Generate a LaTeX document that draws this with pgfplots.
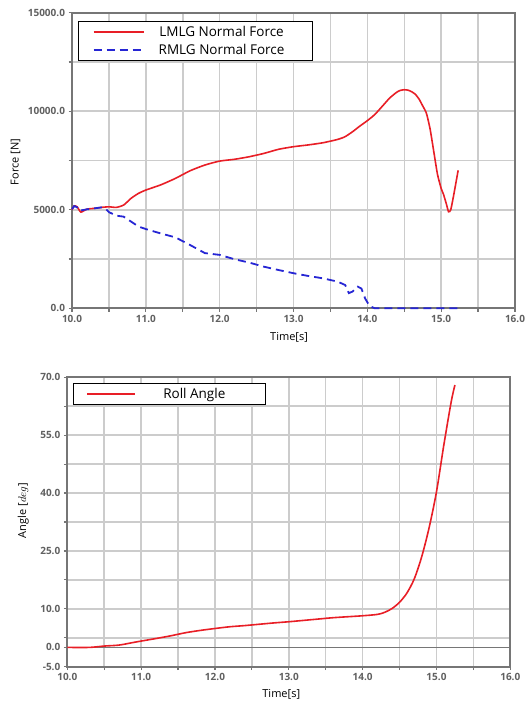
\documentclass[border=0pt]{standalone}
\usepackage{fontspec}
\setmainfont{Open Sans}
\usepackage{pgfplots}
\pgfplotsset{compat=1.18}

\definecolor{lmlgred}{RGB}{232,30,38}
\definecolor{rmlgblue}{RGB}{38,38,212}
\definecolor{gridgray}{RGB}{204,204,204}
\definecolor{framegray}{RGB}{118,118,118}
\definecolor{ticktext}{RGB}{96,96,96}

\pgfplotsset{
  simstyle/.style={
    scale only axis,
    width=443pt,
    xmin=10, xmax=16,
    xtick={10,11,...,16},
    minor xtick={10.5,11.5,...,15.5},
    xticklabels={10.0,11.0,12.0,13.0,14.0,15.0,16.0},
    scaled x ticks=false, scaled y ticks=false,
    xmajorgrids, xminorgrids, ymajorgrids, yminorgrids,
    grid style={draw=gridgray, line width=1.5pt},
    major grid style={draw=gridgray, line width=1.5pt},
    minor grid style={draw=gridgray, line width=1.5pt},
    axis line style={draw=framegray, line width=2pt},
    tick style={draw=framegray, line width=1.2pt},
    tick align=outside,
    major tick length=3.5pt,
    minor tick length=3.5pt,
    xtick pos=bottom, ytick pos=left,
    ticklabel style={font=\fontsize{10}{12}\selectfont\bfseries, text=ticktext},
    label style={font=\fontsize{11}{13}\selectfont, text=black},
    xlabel={Time[s]},
    legend cell align=left,
  },
}

\begin{document}
\begin{tikzpicture}
\useasboundingbox (0,0) rectangle (526pt,703pt);

% Normal forces on the left and right main landing gear
\begin{axis}[
  simstyle,
  at={(72pt,394.7pt)}, anchor=south west,
  height=295.6pt,
  ymin=0, ymax=15000,
  ytick={0,5000,10000,15000},
  minor ytick={2500,7500,12500},
  yticklabels={0.0,5000.0,10000.0,15000.0},
  ylabel={Force [N]},
  ylabel style={at={(axis description cs:-0.1275,0.495)}, anchor=center},
  xlabel style={at={(axis description cs:0.49,-0.098)}, anchor=center},
  clip=false,
  legend style={
    at={(0.0142,0.973)}, anchor=north west,
    draw=black, line width=1pt, fill=white,
    inner xsep=14pt, inner ysep=2.5pt, row sep=2pt,
    font=\fontsize{13.5}{15}\selectfont,
    nodes={inner xsep=4pt, inner ysep=2pt},
  },
]
\addplot[draw=lmlgred, line width=1.6pt, smooth, tension=0.35,
  legend image code/.code={\draw[draw=lmlgred, line width=1.8pt] (0pt,0pt) -- (50pt,0pt);}]
  coordinates {
  (10.00,5000) (10.03,5200) (10.07,5150) (10.12,4880) (10.20,5030)
  (10.30,5070) (10.40,5120) (10.50,5150) (10.60,5120) (10.70,5240)
  (10.80,5580) (10.90,5830) (11.00,6000) (11.20,6260) (11.40,6590)
  (11.60,6980) (11.80,7270) (12.00,7470) (12.20,7560) (12.40,7690)
  (12.60,7860) (12.80,8070) (13.00,8200) (13.20,8290) (13.40,8400)
  (13.60,8570) (13.70,8710) (13.80,8960) (13.90,9250) (14.00,9520)
  (14.10,9830) (14.20,10240) (14.30,10660) (14.40,10970) (14.45,11060)
  (14.50,11090) (14.55,11070) (14.60,10990) (14.65,10860) (14.70,10620)
  (14.75,10270) (14.80,9900) (14.85,9100) (14.90,7950) (14.95,6800)
  (15.00,6080) (15.03,5800) (15.07,5300) (15.10,4900) (15.13,5000)
  (15.17,5750) (15.23,7000)
};
\addlegendentry{\makebox[146pt][c]{\strut LMLG Normal Force}}
\addplot[draw=rmlgblue, line width=1.8pt, dash pattern=on 8pt off 5pt,
  legend image code/.code={\draw[draw=rmlgblue, line width=1.8pt, dash pattern=on 8pt off 5pt] (0pt,0pt) -- (50pt,0pt);}]
  coordinates {
  (10.00,5030) (10.03,5190) (10.07,5120) (10.10,4950) (10.20,5020)
  (10.30,5070) (10.40,5120) (10.45,5080) (10.50,4880) (10.60,4700)
  (10.70,4650) (10.80,4400) (10.90,4150) (11.00,4020) (11.20,3800)
  (11.40,3600) (11.60,3210) (11.80,2800) (12.00,2710) (12.20,2490)
  (12.40,2320) (12.60,2110) (12.80,1940) (13.00,1780) (13.20,1640)
  (13.40,1520) (13.60,1350) (13.70,1180) (13.75,770) (13.80,850)
  (13.87,1100) (13.92,1000) (13.97,500) (14.03,120) (14.10,0)
  (15.25,0)
};
\addlegendentry{\makebox[146pt][c]{\strut RMLG Normal Force}}
\end{axis}

% Roll angle of the aircraft
\begin{axis}[
  simstyle,
  at={(67.3pt,36.3pt)}, anchor=south west,
  height=289.4pt,
  ymin=-5, ymax=70,
  ytick={-5,0,10,25,40,55,70},
  minor ytick={2.5,17.5,32.5,47.5,62.5},
  yticklabels={-5.0,0.0,10.0,25.0,40.0,55.0,70.0},
  ylabel={Angle [$deg$]},
  ylabel style={at={(axis description cs:-0.0993,0.54)}, anchor=center},
  xlabel style={at={(axis description cs:0.483,-0.094)}, anchor=center},
  legend style={
    at={(0.0122,0.981)}, anchor=north west,
    draw=black, line width=1pt, fill=white,
    inner xsep=13.3pt, inner ysep=2.5pt,
    font=\fontsize{13.5}{15}\selectfont,
    nodes={inner xsep=4pt, inner ysep=2pt},
  },
]
\addplot[draw=framegray, line width=1.8pt, forget plot] coordinates {(10,0) (16,0)};
\addplot[draw=lmlgred, line width=1.6pt, smooth, tension=0.5,
  legend image code/.code={\draw[draw=lmlgred, line width=1.8pt] (0pt,0pt) -- (48pt,0pt);}]
  coordinates {
  (10.00,0.00) (10.30,0.00) (10.50,0.35) (10.70,0.60) (10.90,1.30)
  (11.00,1.64) (11.20,2.30) (11.40,3.00) (11.60,3.80) (11.80,4.40)
  (12.00,4.90) (12.20,5.35) (12.40,5.65) (12.60,6.00) (12.80,6.35)
  (13.00,6.65) (13.20,7.00) (13.40,7.35) (13.60,7.70) (13.80,7.95)
  (14.00,8.20) (14.20,8.55) (14.30,9.10) (14.40,10.10) (14.50,11.70)
  (14.60,14.10) (14.70,17.80) (14.80,23.50) (14.90,31.00) (15.00,40.30)
  (15.10,52.50) (15.20,63.70) (15.25,68.00)
};
\addlegendentry{\makebox[108pt][c]{\strut Roll Angle}}
\end{axis}
\end{tikzpicture}
\end{document}
